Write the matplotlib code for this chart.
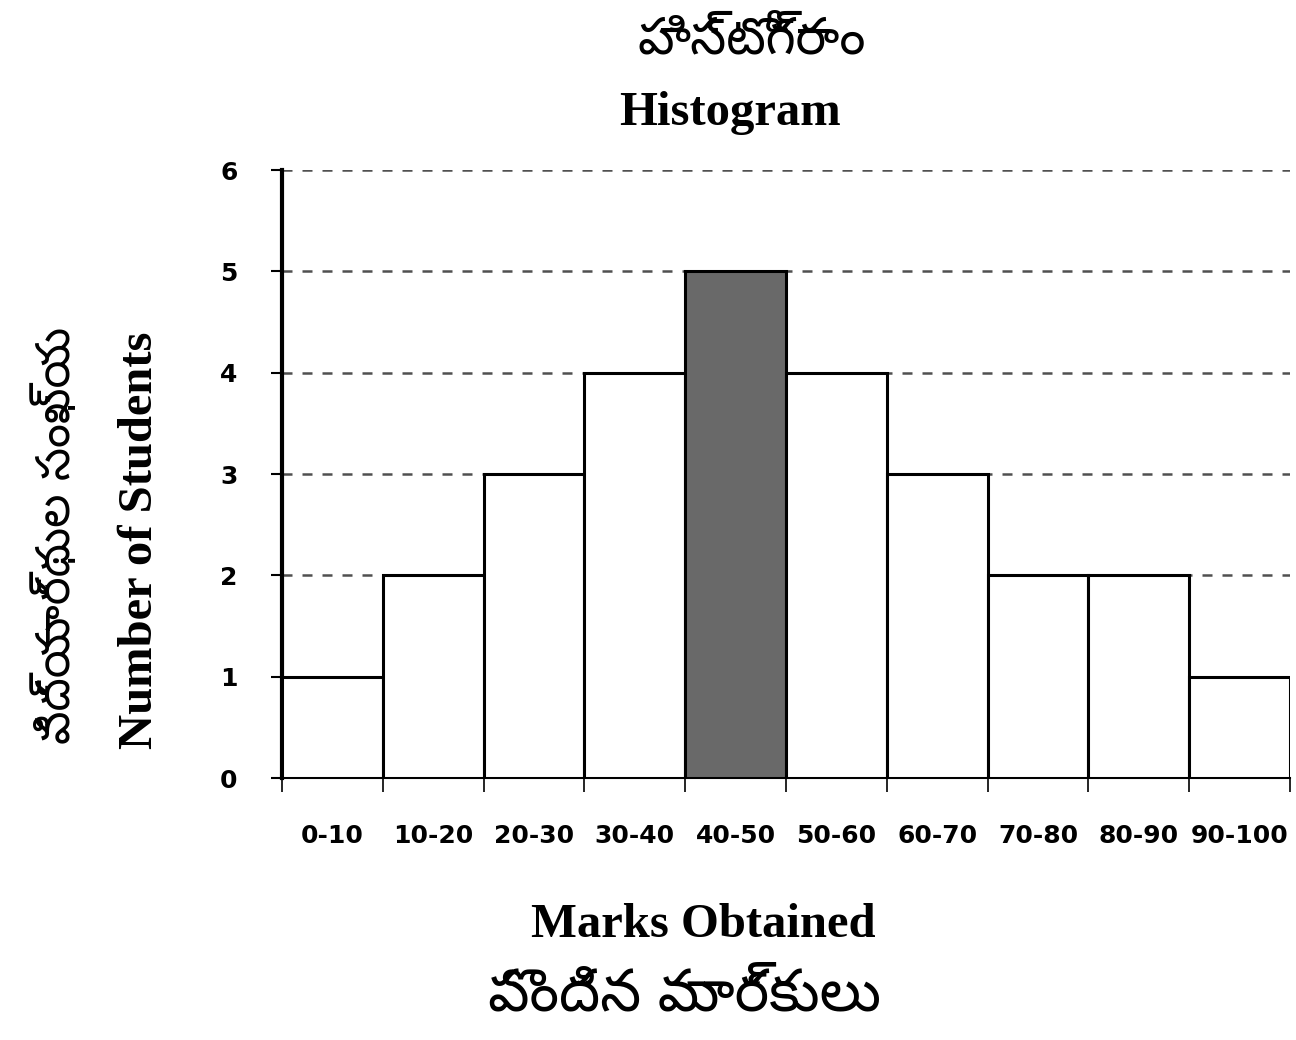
import matplotlib
matplotlib.use("Agg")
import matplotlib.pyplot as plt
from matplotlib import font_manager

categories = ["0-10", "10-20", "20-30", "30-40", "40-50", "50-60", "60-70", "70-80", "80-90", "90-100"]
counts = [1, 2, 3, 4, 5, 4, 3, 2, 2, 1]
highlight = "40-50"
y_ticks = [0, 1, 2, 3, 4, 5, 6]

title_te = "హిస్టోగ్రాం"
title_en = "Histogram"
xlabel_en = "Marks Obtained"
xlabel_te = "పొందిన మార్కులు"
ylabel_en = "Number of Students"
ylabel_te = "విద్యార్థుల సంఖ్య"

names = {f.name for f in font_manager.fontManager.ttflist}
te_fams = [f for f in ["Noto Sans Telugu", "Noto Serif Telugu", "Gautami", "Lohit Telugu", "Pothana2000"] if f in names]
te_family = te_fams + ["Noto Sans", "DejaVu Sans"]

fig = plt.figure(figsize=(12.96, 10.4), dpi=100)
ax = fig.add_axes([282/1296, 1 - 778/1040, 1008/1296, 608/1040])

x = list(range(len(categories)))
colors = ["#696969" if c == highlight else "white" for c in categories]
ax.bar(x, counts, width=1.0, align="edge", color=colors, edgecolor="black", linewidth=2.2, zorder=3)

ax.set_xlim(0, len(categories))
ax.set_ylim(0, 6)
ax.set_yticks(y_ticks)
ax.set_yticklabels([str(v) for v in y_ticks], fontsize=18, fontweight="bold", family="DejaVu Sans")
ax.yaxis.grid(True, linestyle=(0, (4, 4)), color="#505050", linewidth=1.8, zorder=0)
ax.set_axisbelow(True)

ax.set_xticks(range(len(categories) + 1))
ax.set_xticklabels([])
ax.set_xticks([i + 0.5 for i in x], minor=True)
ax.set_xticklabels(categories, minor=True, fontsize=18, fontweight="bold", family="DejaVu Sans")
ax.tick_params(axis="x", which="major", length=10, width=1.2, direction="out", color="black")
ax.tick_params(axis="x", which="minor", length=0, pad=33)
ax.tick_params(axis="y", length=8, width=1.5, direction="out", pad=24)

for s in ["top", "right"]:
    ax.spines[s].set_visible(False)
ax.spines["left"].set_linewidth(3)
ax.spines["bottom"].set_linewidth(1.5)

fig.text(752/1296, 1 - 40/1040, title_te, ha="center", va="center", fontsize=37, family=te_family)
fig.text(730/1296, 1 - 113/1040, title_en, ha="center", va="center", fontsize=35, fontweight="bold", family="Liberation Serif")
fig.text(703/1296, 1 - 925/1040, xlabel_en, ha="center", va="center", fontsize=35, fontweight="bold", family="Liberation Serif")
fig.text(685/1296, 1 - 995/1040, xlabel_te, ha="center", va="center", fontsize=42, family=te_family)
fig.text(140/1296, 1 - 540/1040, ylabel_en, ha="center", va="center", rotation=90, fontsize=35, fontweight="bold", family="Liberation Serif")
fig.text(58/1296, 1 - 535/1040, ylabel_te, ha="center", va="center", rotation=90, fontsize=34, family=te_family)

fig.savefig("out.png", dpi=100, facecolor="white")
